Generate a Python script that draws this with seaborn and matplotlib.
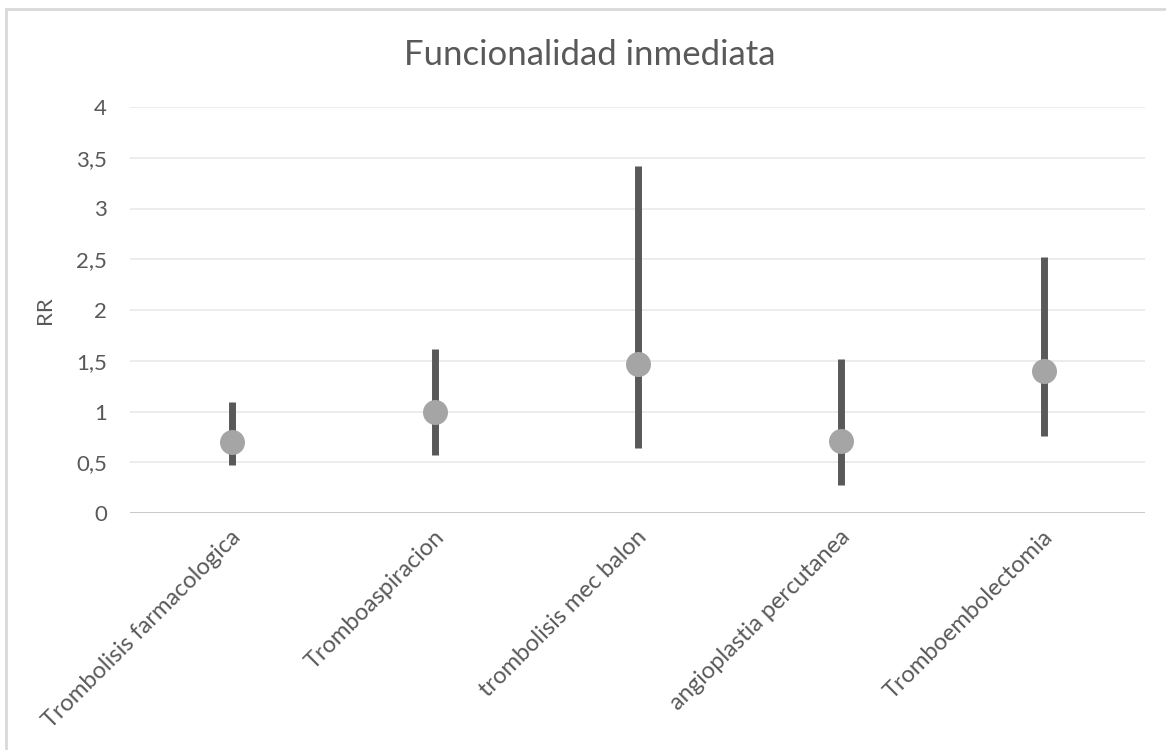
import matplotlib
matplotlib.use("Agg")
import matplotlib.pyplot as plt
import matplotlib.transforms as mtransforms
import seaborn as sns
import pandas as pd
import numpy as np

categories = ["Trombolisis farmacologica", "Tromboaspiracion", "trombolisis mec balon",
              "angioplastia percutanea", "Tromboembolectomia"]
rr = [0.70, 1.00, 1.47, 0.71, 1.40]
ci_low = [0.47, 0.57, 0.64, 0.28, 0.76]
ci_high = [1.09, 1.62, 3.42, 1.52, 2.52]
yticks = [0, 0.5, 1, 1.5, 2, 2.5, 3, 3.5, 4]
ytick_labels = ["0", "0,5", "1", "1,5", "2", "2,5", "3", "3,5", "4"]

rows = []
for c, lo, m, hi in zip(categories, ci_low, rr, ci_high):
    for v in (lo, m, hi):
        rows.append({"cat": c, "val": v})
df = pd.DataFrame(rows)

sns.set_theme(style="white")
plt.rcParams["font.family"] = ["Lato", "DejaVu Sans"]

fig = plt.figure(figsize=(11.66, 7.5), dpi=100)
ax = fig.add_axes([130 / 1166, 1 - 513 / 750, (1145 - 130) / 1166, (513 - 107) / 750])

sns.pointplot(data=df, x="cat", y="val", order=categories, estimator="median",
              errorbar=lambda v: (v.min(), v.max()), linestyle="none",
              color="#595959", markers="", err_kws={"linewidth": 5, "solid_capstyle": "butt"},
              ax=ax, zorder=3)
sns.stripplot(x=categories, y=rr, order=categories, jitter=False, color="#A5A5A5",
              size=18, linewidth=0, ax=ax, zorder=4)

ax.set_ylim(0, 4)
ax.set_xlim(-0.5, 4.5)
ax.set_yticks(yticks)
ax.set_yticklabels(ytick_labels, fontsize=16, color="#595959")
ax.yaxis.grid(True, color="#EBEBEB", linewidth=1.3, zorder=0)
ax.set_axisbelow(True)
for s in ["top", "right", "left", "bottom"]:
    ax.spines[s].set_visible(False)
ax.axhline(0, color="#BFBFBF", linewidth=1.8, zorder=2)
ax.tick_params(axis="y", length=0, pad=16.5)
ax.tick_params(axis="x", length=0, pad=0)

ax.set_xticks(range(len(categories)))
offset = mtransforms.ScaledTranslation(0.06, -0.21, fig.dpi_scale_trans)
ax.set_xticklabels(categories, rotation=45, ha="right", va="center",
                   rotation_mode="anchor", fontsize=17, color="#595959")
for lbl in ax.get_xticklabels():
    lbl.set_transform(lbl.get_transform() + offset)

ax.set_xlabel("")
ax.set_ylabel("RR", fontsize=16, color="#595959")
ax.yaxis.set_label_coords((55 - 130) / 1015, 0.5)

fig.text(0.506, 1 - 55 / 750, "Funcionalidad inmediata",
         ha="center", va="center", fontsize=25, color="#595959")

# chart-area border (top and left visible)
fig.add_artist(plt.Line2D([6 / 1166, 1], [1 - 9 / 750, 1 - 9 / 750],
                          transform=fig.transFigure, color="#D9D9D9", linewidth=2))
fig.add_artist(plt.Line2D([6 / 1166, 6 / 1166], [0, 1 - 9 / 750],
                          transform=fig.transFigure, color="#D9D9D9", linewidth=2))

fig.savefig("out.png", dpi=100, facecolor="white")
